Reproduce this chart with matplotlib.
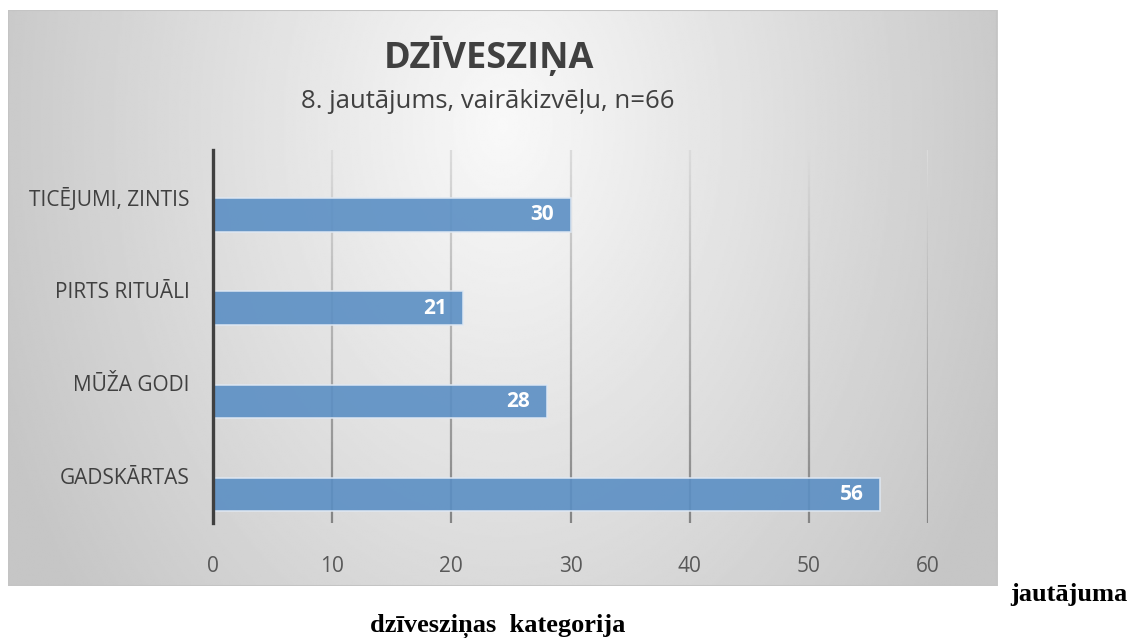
import numpy as np
import matplotlib.pyplot as plt
from matplotlib.patches import Rectangle
from matplotlib.collections import LineCollection

categories = ["GADSKĀRTAS", "MŪŽA GODI", "PIRTS RITUĀLI", "TICĒJUMI, ZINTIS"]
values = [56, 28, 21, 30]
x_ticks = [0, 10, 20, 30, 40, 50, 60]

title = "DZĪVESZIŅA"
subtitle = "8. jautājums, vairākizvēļu, n=66"

W, H = 1130, 638
fig = plt.figure(figsize=(W / 100, H / 100), dpi=100)

# chart box with radial grey gradient
bx0, by0, bx1, by1 = 8, 10, 997, 586
ax_bg = fig.add_axes([bx0 / W, 1 - by1 / H, (bx1 - bx0) / W, (by1 - by0) / H])
yy, xx = np.mgrid[0:1:300j, 0:1:500j]
d = np.sqrt(((xx - 0.5) / 0.55) ** 2 + ((yy - 0.2) / 1.33) ** 2)
d = np.clip(d, 0, 1)
shade = 0.975 - 0.2 * d
ax_bg.imshow(shade, cmap="gray", vmin=0, vmax=1, aspect="auto",
             extent=[0, 1, 1, 0], interpolation="bilinear")
ax_bg.add_patch(Rectangle((0, 0), 1, 1, transform=ax_bg.transAxes, fill=False,
                          edgecolor="#c4c4c4", linewidth=1.5))
ax_bg.set_axis_off()

font = "Open Sans"
fig.text(489 / W, 1 - 57 / H, title, ha="center", va="center",
         fontsize=26, fontweight="bold", color="#404040", family=font)
fig.text(488 / W, 1 - 101 / H, subtitle, ha="center", va="center",
         fontsize=18.5, color="#404040", family=font)

# plot area
px0, py0, px1, py1 = 213, 150, 928, 523
ax = fig.add_axes([px0 / W, 1 - py1 / H, (px1 - px0) / W, (py1 - py0) / H])
ax.set_facecolor("none")

pos = np.arange(len(categories))
ax.set_xlim(0, 60)
ax.set_ylim(-0.5, len(categories) - 0.5)

# vertical gridlines shading from light (top) to dark (bottom)
n_seg = 60
ys = np.linspace(len(categories) - 0.5, -0.5, n_seg + 1)
greys = np.linspace(0.86, 0.52, n_seg)
for t in x_ticks[1:]:
    segs = [[(t, ys[i]), (t, ys[i + 1])] for i in range(n_seg)]
    lc = LineCollection(segs, colors=[(g, g, g) for g in greys],
                        linewidths=1.6, zorder=1)
    ax.add_collection(lc)

bar_h = 0.36
bars = ax.barh(pos - bar_h / 2 - 0.015, values, height=bar_h, color="#5b8fc4",
               alpha=0.9, edgecolor="#dfe8f3", linewidth=1.2, zorder=3)
for rect, v in zip(bars, values):
    ax.text(rect.get_width() - 1.4, rect.get_y() + rect.get_height() / 2, str(v),
            ha="right", va="center", color="white", fontsize=15,
            fontweight="bold", family=font, zorder=4)

ax.set_xticks(x_ticks)
ax.set_xticklabels([str(t) for t in x_ticks], fontsize=15, color="#595959", family=font)
ax.set_yticks(pos)
ax.set_yticklabels(categories, fontsize=15, color="#404040", family=font)
ax.tick_params(axis="x", length=0, pad=24)
ax.tick_params(axis="y", length=0, pad=17)
for s in ["top", "right", "bottom"]:
    ax.spines[s].set_visible(False)
ax.spines["left"].set_color("#404040")
ax.spines["left"].set_linewidth(2.4)
ax.spines["left"].set_zorder(5)

# text outside the chart box
fig.text(1127 / W, 1 - 594 / H, "jautājuma", ha="right", va="center",
         fontsize=19, fontweight="bold", family="Liberation Serif", color="black")
fig.text(498 / W, 1 - 626 / H, "dzīvesziņas  kategorija", ha="center", va="center",
         fontsize=19, fontweight="bold", family="Liberation Serif", color="black")

fig.savefig("out.png", dpi=100)
